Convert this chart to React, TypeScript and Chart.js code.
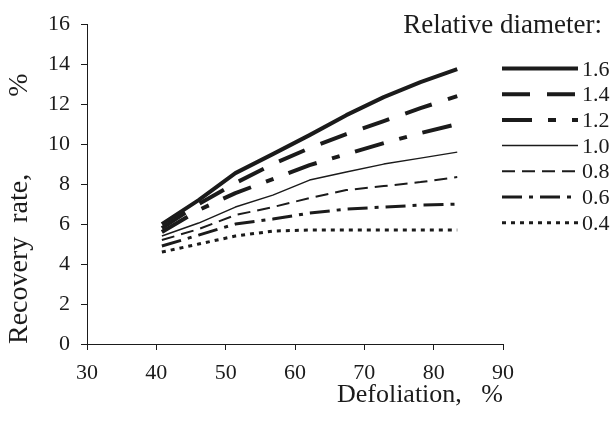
import React, { useEffect, useRef } from 'react';
import { Chart, registerables } from 'chart.js';

Chart.register(...registerables);

// Defoliation (%) positions of the plotted points, as read against the drawn x axis
const defoliation = [40.8, 46.1, 51.4, 56.8, 62.1, 67.4, 72.8, 78.1, 83.4];

// Relative diameter series labels
const diameters = ['1.6', '1.4', '1.2', '1.0', '0.8', '0.6', '0.4'];

// Recovery rate (%) per relative diameter
const rate16 = [6.0, 7.2, 8.55, 9.5, 10.45, 11.45, 12.35, 13.1, 13.75];
const rate14 = [5.8, 7.0, 8.05, 9.0, 9.8, 10.5, 11.15, 11.8, 12.4];
const rate12 = [5.6, 6.7, 7.55, 8.25, 8.95, 9.5, 10.05, 10.55, 11.0];
const rate10 = [5.4, 6.05, 6.85, 7.45, 8.2, 8.6, 9.0, 9.3, 9.6];
const rate08 = [5.2, 5.75, 6.45, 6.85, 7.3, 7.7, 7.9, 8.1, 8.35];
const rate06 = [4.9, 5.45, 6.0, 6.25, 6.55, 6.75, 6.85, 6.95, 7.0];
const rate04 = [4.6, 5.0, 5.4, 5.65, 5.7, 5.7, 5.7, 5.7, 5.7];

const seriesValues = [rate16, rate14, rate12, rate10, rate08, rate06, rate04];

// Axis ranges / tick steps
const xMin = 30, xMax = 90, xStep = 10;
const yMin = 0, yMax = 16, yStep = 2;

const SERIF = "'Liberation Serif', 'Times New Roman', serif";
const INK = '#1b1b1b';

const lineStyles = [
  { width: 4, dash: [] as number[] },
  { width: 4, dash: [28, 17] },
  { width: 4, dash: [30, 16, 8, 16] },
  { width: 1.5, dash: [] as number[] },
  { width: 2, dash: [13, 7] },
  { width: 3, dash: [20, 7, 4, 7] },
  { width: 3, dash: [4, 5] },
];

const sideLegend = {
  id: 'sideLegend',
  afterDraw(chart: any) {
    const ctx = chart.ctx as CanvasRenderingContext2D;
    ctx.save();
    ctx.fillStyle = INK;
    ctx.font = `27px ${SERIF}`;
    ctx.textAlign = 'right';
    ctx.textBaseline = 'alphabetic';
    ctx.fillText('Relative diameter:', 602, 33);
    chart.data.datasets.forEach((ds: any, i: number) => {
      const y = 68.5 + i * 25.7;
      ctx.beginPath();
      ctx.lineWidth = ds.borderWidth;
      ctx.setLineDash(ds.borderDash || []);
      ctx.strokeStyle = ds.borderColor;
      ctx.lineCap = 'butt';
      ctx.moveTo(502, y);
      ctx.lineTo(578, y);
      ctx.stroke();
      ctx.setLineDash([]);
      ctx.font = `22px ${SERIF}`;
      ctx.textAlign = 'left';
      ctx.fillText(ds.label, 582, y + 7);
    });
    ctx.restore();
  },
};

export default function App() {
  const canvasRef = useRef<HTMLCanvasElement | null>(null);

  useEffect(() => {
    const canvas = canvasRef.current;
    if (!canvas) return;
    const datasets = diameters.map((label, i) => ({
      label,
      data: defoliation.map((x, j) => ({ x, y: seriesValues[i][j] })),
      borderColor: INK,
      backgroundColor: INK,
      borderWidth: lineStyles[i].width,
      borderDash: lineStyles[i].dash,
      borderCapStyle: 'butt' as const,
      borderJoinStyle: 'round' as const,
      pointRadius: 0,
      tension: 0,
      fill: false,
    }));

    const chart = new Chart(canvas, {
      type: 'line',
      data: { datasets },
      plugins: [sideLegend],
      options: {
        responsive: false,
        animation: false,
        layout: { padding: { left: 0, right: 111, top: 20, bottom: 0 } },
        plugins: {
          legend: { display: false },
          tooltip: { enabled: false },
        },
        scales: {
          x: {
            type: 'linear',
            min: xMin,
            max: xMax,
            afterFit: (scale: any) => { scale.height = 83; },
            ticks: {
              stepSize: xStep,
              color: INK,
              padding: 10,
              font: { family: SERIF, size: 22 },
            },
            grid: { drawOnChartArea: false, drawTicks: true, tickLength: 6, color: INK, lineWidth: 1 },
            border: { color: INK, width: 1 },
            title: {
              display: true,
              text: 'Defoliation,   %',
              align: 'end',
              color: INK,
              font: { family: SERIF, size: 26 },
              padding: { top: 0, bottom: 16 },
            },
          },
          y: {
            type: 'linear',
            min: yMin,
            max: yMax,
            afterFit: (scale: any) => { scale.width = 87; },
            ticks: {
              stepSize: yStep,
              color: INK,
              padding: 11,
              font: { family: SERIF, size: 22 },
            },
            grid: { drawOnChartArea: false, drawTicks: true, tickLength: 6, color: INK, lineWidth: 1 },
            border: { color: INK, width: 1 },
            title: {
              display: true,
              text: 'Recovery  rate,           %',
              align: 'start',
              color: INK,
              font: { family: SERIF, size: 28 },
              padding: { top: 3, bottom: 0 },
            },
          },
        },
      },
    });
    return () => chart.destroy();
  }, []);

  return (
    <div style={{ position: 'absolute', left: 0, top: 0, width: 614, height: 427, background: '#fff' }}>
      <canvas ref={canvasRef} width={614} height={427} style={{ display: 'block' }} />
    </div>
  );
}
